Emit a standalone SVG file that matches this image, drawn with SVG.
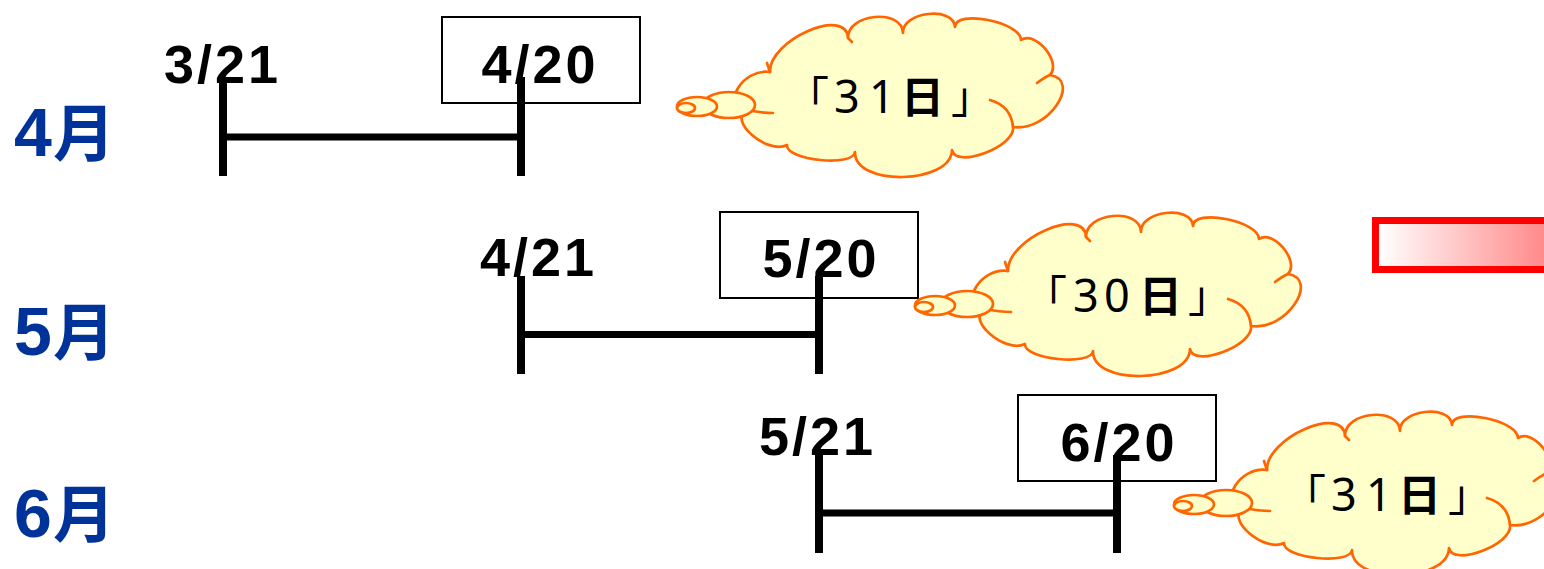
<svg xmlns="http://www.w3.org/2000/svg" width="1544" height="569" viewBox="0 0 1544 569">
<defs>
<style>
.month{font-family:"Liberation Sans","Noto Sans CJK JP",sans-serif;font-weight:700;fill:#003399;font-size:68px}
.mk{font-family:"Noto Sans CJK JP",sans-serif;font-size:62px}
.date{font-family:"Liberation Sans",Arial,sans-serif;font-weight:700;font-size:54px;letter-spacing:3px;fill:#000}
.box{fill:#fff;stroke:#000;stroke-width:2}
.bar{stroke:#000;stroke-width:8;fill:none}
.hbar{stroke:#000;stroke-width:7;fill:none}
.cloud{fill:#FFFFCC;stroke:#FF6600;stroke-width:2.7;stroke-linejoin:round}
.crease{fill:none;stroke:#FF6600;stroke-width:2.7;stroke-linecap:round}
.ctext{font-family:"Noto Sans CJK JP",sans-serif;font-size:43px;fill:#000}
.dg{font-family:"Noto Sans","Noto Sans CJK JP",sans-serif;font-size:45px}
.b{font-weight:700}
</style>
<linearGradient id="rg" gradientUnits="userSpaceOnUse" x1="1379" y1="0" x2="1544" y2="0">
<stop offset="0" stop-color="#ffffff"/>
<stop offset="1" stop-color="#ff8a8a"/>
</linearGradient>
<g id="cloud">
<path class="cloud" d="M770,72 C768.7,40 846.7,6 848,38 C847.3,13.3 902.3,8.3 903,33 C901.7,11.7 953.7,5.7 955,27 C955,9 1021,22 1021,40 C1035,30 1062,62 1050,75 C1082,80.3 1048.3,132.3 1013,127 C1016.3,146.3 955.3,169.3 952,150 C951.3,184.7 854.3,186.7 855,152 C853.7,167.3 785.7,160.3 787,145 C767,155 727,120 747,110 C719.7,106 742.7,68 770,72 Z"/>
<path class="crease" d="M747,110 Q762,113 773,113"/>
<path class="crease" d="M990,100 Q1011,106 1013,127"/>
<path class="crease" d="M1037,83 Q1045,77 1050,75"/>
<path class="crease" d="M848,38 L852,42"/>
<path class="crease" d="M770,72 L767,63"/>
<ellipse class="cloud" cx="729" cy="105" rx="26" ry="13"/>
<ellipse class="cloud" cx="697" cy="106.5" rx="20" ry="9.5"/>
<ellipse class="cloud" cx="686" cy="108" rx="9" ry="5"/>
</g>
</defs>
<rect width="1544" height="569" fill="#ffffff"/>

<g id="month-4"><text class="month" y="156"><tspan x="14">4</tspan><tspan class="mk" x="53">月</tspan></text></g>
<g id="month-5"><text class="month" y="355"><tspan x="14">5</tspan><tspan class="mk" x="53">月</tspan></text></g>
<g id="month-6"><text class="month" y="537"><tspan x="14">6</tspan><tspan class="mk" x="53">月</tspan></text></g>

<g id="row-april">
<text class="date" x="164" y="83">3/21</text>
<rect class="box" x="442" y="17" width="198" height="86"/>
<text class="date" x="540" y="83" text-anchor="middle">4/20</text>
</g>
<g id="row-may">
<text class="date" x="480" y="276">4/21</text>
<rect class="box" x="720" y="212" width="198" height="86"/>
<text class="date" x="821" y="277" text-anchor="middle">5/20</text>
</g>
<g id="row-june">
<text class="date" x="759" y="455">5/21</text>
<rect class="box" x="1018" y="395" width="198" height="86"/>
<text class="date" x="1119" y="461" text-anchor="middle">6/20</text>
</g>

<g id="connectors">
<path class="bar" d="M223,77 V176 M521,77 V176"/>
<path class="hbar" d="M223,137 H521"/>
<path class="bar" d="M521,276 V374 M819,276 V374"/>
<path class="hbar" d="M521,334.5 H819"/>
<path class="bar" d="M819,455 V553 M1117,455 V553"/>
<path class="hbar" d="M819,513 H1117"/>
</g>

<g id="cloud-april">
<use href="#cloud"/>
<text class="ctext" y="113"><tspan x="786">「</tspan><tspan class="dg" x="834">3</tspan><tspan class="dg" x="869">1</tspan><tspan class="b" x="901">日</tspan><tspan x="951">」</tspan></text>
</g>
<g id="cloud-may">
<use href="#cloud" transform="translate(238,199)"/>
<text class="ctext" y="312"><tspan x="1024">「</tspan><tspan class="dg" x="1073">3</tspan><tspan class="dg" x="1104">0</tspan><tspan class="b" x="1139">日</tspan><tspan x="1188">」</tspan></text>
</g>
<g id="cloud-june">
<use href="#cloud" transform="translate(497,398)"/>
<text class="ctext" y="511"><tspan x="1283">「</tspan><tspan class="dg" x="1331">3</tspan><tspan class="dg" x="1366">1</tspan><tspan class="b" x="1398">日</tspan><tspan x="1448">」</tspan></text>
</g>

<g id="red-box">
<rect x="1375.5" y="220.5" width="200" height="49" fill="url(#rg)" stroke="#ff0000" stroke-width="7"/>
</g>
</svg>
